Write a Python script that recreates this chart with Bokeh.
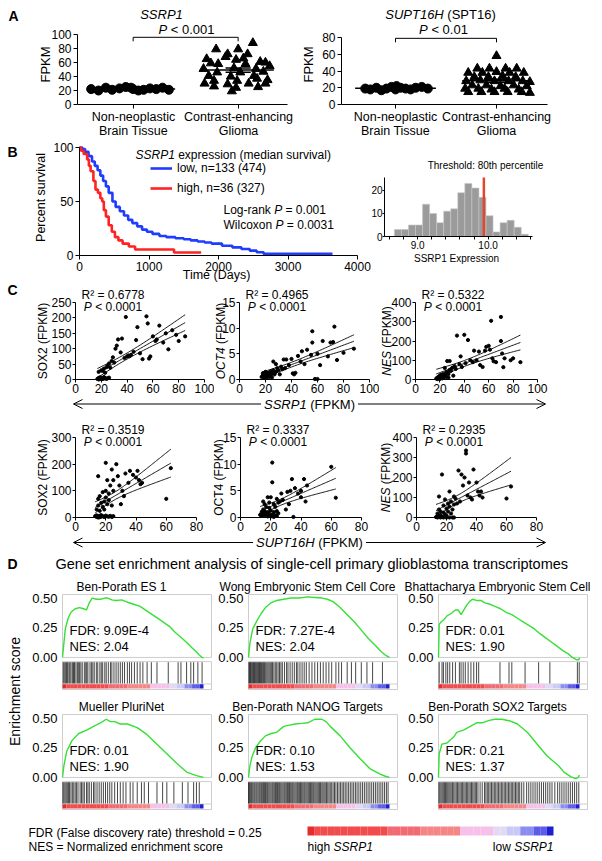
import numpy as np
from math import pi
from bokeh.plotting import figure
from bokeh.models import (Range1d, Label, FixedTicker, Arrow, OpenHead,
                          Legend, LegendItem, NumeralTickFormatter)
from bokeh.layouts import row, column
from bokeh.embed import file_html
from bokeh.resources import INLINE

FONT = "Liberation Sans"
BLUE = "#1f3cff"
RED = "#ff2222"
GREEN = "#36e036"

# ---------------- data: panel A ----------------
ssrp1_normal = [22, 20, 24, 21, 23, 25, 22, 20, 24, 21, 23, 22, 24, 21]
ssrp1_normal_jit = [-0.40, -0.33, -0.26, -0.20, -0.13, -0.07, 0.0, 0.05, -0.02, 0.10, 0.16, 0.22, 0.28, 0.34]
ssrp1_tumor = [88, 79, 79, 72, 72, 68, 66, 65, 64, 61, 59, 58, 58, 60, 55, 51, 52, 51, 46, 46, 47,
               41, 40, 41, 34, 34, 37, 35, 30, 29, 30, 30, 26, 24, 25, 19]
ssrp1_tumor_jit = [0.14, -0.21, 0.0, -0.10, 0.09, -0.12, 0.05, -0.30, -0.02, 0.21, -0.26, -0.19, 0.07,
                   0.26, 0.30, -0.33, -0.04, 0.17, -0.20, 0.02, 0.24, -0.28, -0.07, 0.15, -0.23, -0.01,
                   0.18, 0.28, -0.32, -0.10, 0.10, 0.26, -0.23, -0.02, 0.19, -0.06]
supt_normal = [19, 18, 20, 17, 19, 21, 18, 20, 22, 19, 18, 20, 21, 19]
supt_normal_jit = [-0.30, -0.25, -0.19, -0.14, -0.09, -0.04, 0.0, 0.05, 0.01, 0.10, 0.15, 0.20, 0.26, 0.32]
supt_tumor = [58, 43, 43, 43, 43, 38, 38, 39, 38, 38, 33, 33, 34, 33, 28, 29, 28, 28, 28, 27,
              23, 23, 22, 23, 22, 19, 19, 18, 19, 18, 15, 15, 15, 15, 15, 14]
supt_tumor_jit = [0.0, -0.19, -0.07, 0.09, 0.20, -0.28, -0.14, 0.0, 0.13, 0.27, -0.22, -0.08, 0.06,
                  0.19, -0.30, -0.16, -0.02, 0.12, 0.26, 0.33, -0.24, -0.10, 0.04, 0.17, 0.30, -0.31,
                  -0.18, -0.05, 0.08, 0.22, -0.28, -0.15, -0.02, 0.11, 0.25, 0.33]
group_labels = [("Non-neoplastic", "Brain Tissue"), ("Contrast-enhancing", "Glioma")]
sig_levels = [96, 79]   # height of the significance brackets (FPKM)

# ---------------- data: panel B ----------------
t_low = [0, 40, 80, 130, 180, 220, 260, 300, 340, 380, 420, 474, 520, 580, 640, 700, 760, 830, 900,
         970, 1050, 1150, 1250, 1380, 1500, 1600, 1700, 1800, 1900, 2050, 2200, 2330, 2450, 2550,
         2650, 3000, 3400, 3640]
s_low = [100, 98.5, 96, 92, 87, 83, 79, 74, 69, 64, 58, 50, 45, 41, 37, 33, 30, 27, 24, 22, 20, 18,
         17, 16, 15, 14, 13, 12, 11, 9, 7.5, 6, 4.5, 3, 1.5, 1.5, 1.5, 1.5]
t_high = [0, 20, 60, 110, 135, 160, 200, 230, 265, 300, 327, 350, 380, 420, 465, 510, 560, 620, 710,
          800, 930, 1330, 1360, 1750]
s_high = [100, 97, 94, 89, 83, 78, 69, 61, 58, 53, 50, 42, 36, 28, 22, 17, 14, 11, 8.3, 5.6, 5.6,
          5.6, 2.8, 2.8]
hist_centers = [8.72, 8.82, 8.92, 9.02, 9.12, 9.22, 9.32, 9.42, 9.52, 9.62, 9.72, 9.82, 9.92, 10.02,
                10.12, 10.22, 10.32, 10.42, 10.52]
hist_counts = [3, 3, 5, 5, 14, 10, 6, 11, 12, 19, 23, 21, 17, 9, 2, 6, 7, 4, 1]
threshold = 9.94

# ---------------- data: panel C (x, y) ----------------
c_ssrp1_sox2 = [(17, 2), (18, 5), (18, 0), (19, 3), (19, 7), (20, 1), (20, 6), (21, 2), (21, 4), (22, 3),
                (22, 8), (23, 5), (24, 2), (25, 4), (26, 6), (18, 25), (20, 30), (21, 28), (22, 35),
                (23, 22), (24, 40), (25, 45), (26, 52), (27, 38), (28, 60), (29, 72), (30, 55), (31, 100),
                (32, 110), (33, 130), (35, 88), (36, 133), (38, 70), (39, 203), (40, 75), (41, 78),
                (42, 76), (43, 80), (45, 90), (47, 128), (48, 170), (50, 85), (52, 66), (55, 205),
                (56, 182), (57, 68), (58, 75), (60, 140), (62, 125), (63, 130), (65, 175), (68, 120),
                (70, 150), (72, 98), (75, 160), (78, 145), (80, 125), (85, 140)]
c_ssrp1_oct4 = [(17, 0.5), (18, 0.8), (18, 1.2), (19, 0.3), (19, 1.0), (20, 0.6), (20, 1.5), (21, 0.9),
                (21, 0.4), (22, 1.3), (22, 0.7), (23, 1.1), (23, 0.5), (24, 1.6), (24, 0.9), (25, 1.2),
                (25, 0.4), (26, 1.8), (27, 1.0), (28, 1.5), (29, 2.2), (30, 1.8), (32, 2.5), (33, 2.0),
                (34, 3.9), (36, 3.9), (38, 2.8), (40, 4.0), (41, 1.2), (42, 1.0), (43, 1.3), (45, 4.6),
                (48, 5.5), (50, 3.0), (52, 5.8), (55, 4.8), (56, 9.4), (56, 7.2), (58, 0.1), (60, 0.1),
                (60, 5.0), (62, 2.8), (64, 7.5), (68, 4.5), (70, 7.2), (72, 7.3), (73, 10.3), (75, 3.8),
                (80, 5.2), (88, 6.0), (26, 3.5), (28, 3.0), (31, 1.0), (35, 2.2), (47, 3.5)]
c_ssrp1_nes = [(17, 5), (18, 10), (18, 2), (19, 15), (19, 8), (20, 20), (20, 3), (21, 12), (21, 25),
               (22, 6), (22, 18), (23, 30), (23, 10), (24, 22), (25, 14), (25, 35), (26, 40), (27, 28),
               (28, 50), (29, 45), (30, 60), (31, 20), (32, 70), (33, 55), (34, 228), (36, 80), (38, 65),
               (40, 232), (41, 85), (43, 205), (45, 100), (47, 90), (48, 150), (50, 100), (52, 145),
               (53, 75), (55, 65), (57, 150), (58, 170), (60, 175), (61, 155), (62, 305), (63, 110),
               (64, 95), (66, 90), (70, 325), (70, 200), (71, 135), (72, 64), (73, 110), (78, 100),
               (80, 110), (86, 90), (26, 96), (28, 96), (37, 120), (24, 60), (27, 10)]
c_supt_sox2 = [(13, 5), (14, 2), (14, 8), (15, 0), (15, 4), (16, 6), (16, 1), (17, 3), (17, 9), (18, 5),
               (19, 2), (20, 7), (21, 4), (22, 3), (23, 6), (24, 2), (25, 5), (14, 30), (15, 45), (15, 70),
               (16, 25), (16, 80), (17, 55), (18, 40), (18, 95), (19, 60), (19, 30), (20, 75), (20, 100),
               (21, 50), (22, 90), (22, 65), (23, 120), (24, 45), (25, 100), (15, 155), (20, 205),
               (21, 140), (24, 180), (25, 140), (27, 200), (28, 155), (29, 120), (30, 50), (31, 100),
               (32, 80), (33, 165), (35, 130), (36, 175), (38, 160), (40, 150), (41, 175), (42, 140),
               (43, 125), (44, 130), (60, 70), (63, 185)]
c_supt_oct4 = [(13, 0.5), (14, 1.0), (14, 0.3), (15, 1.5), (15, 0.8), (16, 0.4), (16, 1.2), (17, 2.0),
               (17, 0.6), (18, 1.0), (18, 0.2), (19, 1.8), (19, 0.7), (20, 1.3), (20, 3.8), (21, 10.3),
               (21, 6.6), (21, 0.5), (22, 2.5), (22, 1.0), (23, 0.4), (23, 2.0), (24, 3.5), (24, 1.2),
               (25, 0.8), (25, 2.8), (26, 3.0), (27, 4.5), (28, 3.3), (30, 1.5), (31, 4.8), (32, 2.5),
               (33, 5.0), (34, 7.2), (35, 0.1), (36, 5.5), (38, 4.5), (40, 5.0), (40, 3.8), (42, 7.2),
               (43, 3.0), (44, 6.0), (60, 9.5), (63, 3.7), (18, 3.8), (16, 2.5), (15, 3.0), (19, 2.8),
               (20, 0.2), (22, 0.1), (24, 0.3)]
c_supt_nes = [(13, 2), (14, 8), (14, 20), (15, 5), (15, 40), (15, 105), (16, 12), (16, 30), (17, 215),
              (17, 3), (18, 25), (18, 60), (19, 15), (19, 90), (20, 10), (20, 45), (21, 30), (21, 70),
              (22, 130), (22, 55), (23, 20), (23, 80), (24, 40), (25, 105), (25, 65), (26, 95), (27, 70),
              (28, 235), (29, 80), (30, 215), (31, 160), (32, 200), (33, 335), (33, 320), (34, 110),
              (35, 175), (36, 100), (37, 90), (38, 240), (40, 175), (41, 130), (42, 110), (43, 130),
              (44, 100), (60, 95), (63, 155), (14, 0), (16, 0), (18, 0), (20, 0), (22, 0), (24, 0), (25, 0)]
r2_ssrp1 = ["0.6778", "0.4965", "0.5322"]
r2_supt = ["0.3519", "0.3337", "0.2935"]

# ---------------- data: panel D (GSEA) ----------------
gsea_titles = ["Ben-Porath ES 1", "Wong Embryonic Stem Cell Core", "Bhattacharya Embryonic Stem Cell",
               "Mueller PluriNet", "Ben-Porath NANOG Targets", "Ben-Porath SOX2 Targets"]
gsea_fdr = ["9.09E-4", "7.27E-4", "0.01", "0.01", "0.10", "0.21"]
gsea_nes = ["2.04", "2.04", "1.90", "1.90", "1.53", "1.37"]
es_es1 = [(0, 0), (0.01, 0.12), (0.02, 0.24), (0.04, 0.33), (0.06, 0.38), (0.09, 0.41), (0.12, 0.42),
          (0.15, 0.41), (0.17, 0.40), (0.19, 0.46), (0.21, 0.50), (0.24, 0.49), (0.27, 0.49), (0.30, 0.50),
          (0.32, 0.50), (0.35, 0.485), (0.38, 0.48), (0.42, 0.485), (0.46, 0.465), (0.50, 0.45),
          (0.55, 0.43), (0.60, 0.39), (0.65, 0.35), (0.70, 0.31), (0.76, 0.26), (0.80, 0.21), (0.85, 0.16),
          (0.89, 0.115), (0.92, 0.08), (0.95, 0.045), (0.97, 0.02), (0.99, 0.0), (1.0, -0.005)]
es_wong = [(0, 0), (0.01, 0.12), (0.03, 0.24), (0.06, 0.31), (0.09, 0.37), (0.12, 0.42), (0.16, 0.46),
           (0.20, 0.48), (0.25, 0.49), (0.30, 0.50), (0.36, 0.50), (0.42, 0.51), (0.47, 0.505), (0.52, 0.50),
           (0.56, 0.49), (0.60, 0.47), (0.65, 0.42), (0.70, 0.36), (0.75, 0.30), (0.80, 0.23), (0.85, 0.16),
           (0.90, 0.10), (0.94, 0.05), (0.97, 0.02), (1.0, 0.0)]
es_bhat = [(0, 0), (0.005, 0.28), (0.02, 0.30), (0.04, 0.32), (0.06, 0.35), (0.09, 0.37), (0.12, 0.40),
           (0.14, 0.40), (0.16, 0.36), (0.18, 0.40), (0.20, 0.44), (0.22, 0.47), (0.24, 0.49), (0.27, 0.48),
           (0.30, 0.48), (0.33, 0.46), (0.36, 0.45), (0.40, 0.43), (0.44, 0.41), (0.48, 0.38), (0.52, 0.36),
           (0.56, 0.33), (0.60, 0.30), (0.64, 0.27), (0.68, 0.24), (0.72, 0.20), (0.76, 0.165), (0.80, 0.13),
           (0.84, 0.095), (0.88, 0.06), (0.92, 0.03), (0.95, 0.0), (0.98, -0.02), (0.995, -0.02), (1.0, 0.0)]
es_mueller = [(0, 0), (0.01, 0.10), (0.03, 0.22), (0.067, 0.31), (0.115, 0.37), (0.175, 0.40), (0.22, 0.43),
              (0.27, 0.46), (0.31, 0.49), (0.34, 0.47), (0.37, 0.47), (0.41, 0.45), (0.46, 0.45), (0.53, 0.42),
              (0.60, 0.36), (0.67, 0.28), (0.74, 0.20), (0.81, 0.12), (0.88, 0.045), (0.95, 0.015), (1.0, 0.0)]
es_nanog = [(0, 0), (0.01, 0.10), (0.024, 0.17), (0.05, 0.25), (0.08, 0.30), (0.12, 0.35), (0.16, 0.37),
            (0.20, 0.38), (0.25, 0.43), (0.29, 0.44), (0.33, 0.45), (0.38, 0.455), (0.42, 0.46), (0.47, 0.49),
            (0.52, 0.49), (0.55, 0.47), (0.58, 0.43), (0.65, 0.35), (0.72, 0.25), (0.79, 0.16), (0.86, 0.075),
            (0.93, 0.03), (0.97, 0.01), (1.0, 0.0)]
es_sox2 = [(0, 0), (0.005, 0.20), (0.024, 0.28), (0.06, 0.29), (0.107, 0.34), (0.13, 0.38), (0.18, 0.40),
           (0.226, 0.43), (0.27, 0.46), (0.31, 0.46), (0.36, 0.48), (0.40, 0.49), (0.45, 0.49), (0.51, 0.475),
           (0.56, 0.45), (0.63, 0.38), (0.70, 0.28), (0.77, 0.18), (0.85, 0.10), (0.89, 0.045), (0.94, 0.005),
           (0.975, -0.01), (0.99, 0.0), (1.0, 0.02)]
# gene-set hit positions in the ranked list (percent)
hits_es1 = [0.5, 1.2, 2, 2.8, 3.5, 4.5, 5.2, 6, 7, 7.8, 8.5, 9.5, 10.5, 11.2, 12, 13, 14, 15.5, 16.5, 17.2,
            18, 19.5, 20.5, 21.5, 22.5, 24, 25, 26.5, 27.5, 28.5, 30, 31, 32.5, 34, 35, 36.5, 38, 39.5, 41,
            42.5, 44, 46, 47.5, 49, 51, 53, 55, 57, 60, 63, 67, 75, 82, 84, 88, 91, 93, 96, 99]
hits_wong = [0.3, 0.8, 1.3, 1.8, 2.4, 3, 3.6, 4.2, 4.8, 5.4, 6, 6.6, 7.2, 7.8, 8.5, 9.2, 10, 10.7, 11.4,
             12.2, 13, 13.8, 14.6, 15.4, 16.2, 17, 18, 19, 20, 21, 22, 23, 24, 25.5, 27, 28, 29.5, 31, 32.5,
             34, 35, 36.5, 38, 39.5, 41, 43, 45, 47, 49, 51, 53, 55, 57, 59, 62, 64, 66, 70, 73, 76, 80, 84,
             88, 95]
hits_bhat = [0.5, 2.5, 3.5, 5.2, 6.5, 8, 10, 12, 14.8, 16, 17.5, 19, 21, 23, 25, 27, 28.5, 43.6, 50, 52,
             61.4, 71, 79, 98.5, 99.8]
hits_mueller = [0.3, 1, 1.8, 2.6, 3.4, 4.2, 5, 6, 7, 8, 9, 10, 11, 12.5, 13.5, 14.5, 15.5, 17, 18, 19,
                20.5, 22, 23, 24.5, 26, 27.5, 29, 30.5, 32, 33.5, 35, 37, 39, 41, 43, 45, 48, 50, 53, 56,
                58, 61, 67, 71, 74, 79, 85, 89, 93, 95, 97]
hits_nanog = [0, 0.7, 1.5, 2.2, 3, 3.8, 4.5, 5.3, 6, 6.8, 7.6, 8.3, 9.1, 9.8, 10.6, 11.4, 12.1, 12.9, 13.6,
              14.4, 15.2, 16, 16.8, 17.5, 18.3, 19.1, 19.8, 20.6, 21.4, 22.1, 22.9, 23.7, 24.5, 25.3, 26,
              26.8, 27.6, 28.3, 29.1, 29.9, 30.7, 31.4, 32.2, 33, 33.8, 34.6, 35.3, 36.1, 36.9, 37.7, 38.5,
              39.3, 40, 40.8, 41.6, 42.4, 43.2, 44, 44.8, 45.6, 46.3, 47.1, 47.9, 48.7, 49.5, 50.3, 51.1,
              52, 52.8, 53.6, 54.4, 55.3, 56.2, 57.1, 58, 59, 60, 61, 62, 63.1, 64.2, 65.3, 66.4, 67.5,
              68.6, 69.8, 71, 72.2, 73.4, 74.6, 75.8, 77, 78.3, 79.6, 80.9, 82.2, 83.5, 84.8, 86.1, 87.4,
              88.7, 90, 91.3, 92.6, 93.9, 95.2, 96.5, 97.8, 99]
hits_sox2 = [0.3, 1, 1.8, 2.6, 3.4, 4.2, 5, 5.8, 6.6, 7.4, 8.2, 9, 9.9, 10.8, 11.7, 12.6, 13.5, 14.4, 15.3,
             16.2, 17.1, 18, 18.9, 19.8, 20.7, 21.6, 22.5, 23.4, 24.3, 25.2, 26.1, 27, 28, 29.5, 31, 32.6,
             33.6, 34.6, 35.6, 36.6, 37.6, 38.6, 39.6, 40.6, 41.6, 42.6, 43.6, 44.6, 45.6, 46.6, 47.6,
             48.6, 49.6, 50.6, 51.6, 52.6, 53.6, 54.6, 55.6, 56.6, 57.6, 59, 60.5, 62.5, 64, 65.5, 67,
             68.5, 70, 71.5, 73, 74.5, 76, 77.5, 79, 80.5, 82.5, 84.5, 86, 87.5, 89, 90.5, 92, 93.5, 95,
             96.5, 98, 99.5]
rank_colors = (["#e52c2c"] + ["#f24b4b"] * 11 + ["#f26b73"] * 5 + ["#f58686"] * 6 + ["#f7c0ea"] * 5 +
               ["#e2d9f5"] * 2 + ["#c9c9f5"] * 2 + ["#8c8cf0"] * 2 + ["#5c5ce8"] * 2 + ["#1f1fd0"])

# ---------------- helpers ----------------
AW = {' ': 278, '(': 333, ')': 333, ',': 278, '-': 333, '.': 278, ':': 278, '<': 584, '=': 584,
      '²': 333, 'A': 667, 'B': 667, 'C': 722, 'D': 722, 'E': 667, 'F': 611, 'G': 778, 'H': 722,
      'I': 278, 'J': 500, 'K': 667, 'L': 556, 'M': 833, 'N': 722, 'O': 778, 'P': 667, 'Q': 778,
      'R': 722, 'S': 667, 'T': 611, 'U': 722, 'V': 667, 'W': 944, 'X': 667, 'Y': 667, 'Z': 611,
      'a': 556, 'b': 556, 'c': 500, 'd': 556, 'e': 556, 'f': 278, 'g': 556, 'h': 556, 'i': 222,
      'j': 222, 'k': 500, 'l': 222, 'm': 833, 'n': 556, 'o': 556, 'p': 556, 'q': 556, 'r': 333,
      's': 500, 't': 278, 'u': 556, 'v': 500, 'w': 722, 'x': 500, 'y': 500, 'z': 500}


def tw(s, size):
    return sum(AW.get(c, 556) for c in s) * size / 1000.0


class Panel:
    """A figure covering page-pixel box; its data area sits at page-pixel 'area' with ranges xr, yr.
    The frame spans the whole figure; axes are pinned at the data area's edges."""
    def __init__(self, box, area=None, xr=None, yr=None):
        self.L, self.T, self.R, self.B = box
        self.l, self.t, self.r, self.b = area if area else box
        self.xr = xr if xr else (self.l, self.r)
        self.yr = yr if yr else (0, self.b - self.t)

    def X(self, px):
        return self.xr[0] + (px - self.l) / (self.r - self.l) * (self.xr[1] - self.xr[0])

    def Y(self, py):
        return self.yr[0] + (self.b - py) / (self.b - self.t) * (self.yr[1] - self.yr[0])

    def fig(self, **kw):
        p = figure(width=int(self.R - self.L), height=int(self.B - self.T),
                   x_range=Range1d(self.X(self.L), self.X(self.R)),
                   y_range=Range1d(self.Y(self.B), self.Y(self.T)),
                   min_border_left=0, min_border_right=0, min_border_top=0, min_border_bottom=0,
                   output_backend="svg", toolbar_location=None, title=None, **kw)
        p.outline_line_color = None
        p.grid.visible = False
        p.background_fill_color = "white"
        p.border_fill_color = "white"
        for ax in p.xaxis:
            ax.fixed_location = self.yr[0]
            ax.bounds = tuple(self.xr)
        for ax in p.yaxis:
            ax.fixed_location = self.xr[0]
            ax.bounds = tuple(self.yr)
        return p


def text(p, P, x, y, s, size=12, align="left", style="normal", angle=0.0, color="black"):
    p.add_layout(Label(x=P.X(x), y=P.Y(y), text=s, text_font=FONT, text_font_size=f"{size}px",
                       text_font_style=style, text_align=align, text_baseline="middle",
                       angle=angle, text_color=color))


def mixed(p, P, x, y, pieces, size=12, align="left", angle=0.0):
    widths = [tw(s, size) for s, _ in pieces]
    total = sum(widths)
    off = {"left": 0.0, "center": -total / 2, "right": -total}[align]
    for (s, st), w in zip(pieces, widths):
        lead = len(s) - len(s.lstrip(" "))
        o = off + tw(" " * lead, size)
        if angle == 0:
            text(p, P, x + o, y, s.strip(), size, "left", st)
        else:
            text(p, P, x, y - o, s.strip(), size, "left", st, angle=angle)
        off += w
    return total


def style_axis(ax, ticks, size=12, tick=4, standoff=2):
    ax.ticker = FixedTicker(ticks=ticks, minor_ticks=[])
    ax.axis_line_color = "black"
    ax.axis_line_width = 1
    ax.major_tick_line_color = "black"
    ax.major_tick_in = 0
    ax.major_tick_out = tick
    ax.minor_tick_line_color = None
    ax.major_label_text_font = FONT
    ax.major_label_text_font_size = f"{size}px"
    ax.major_label_text_color = "black"
    ax.major_label_standoff = standoff


def prism_axes(p, xt, yt, size=12, tick=4, standoff=2):
    style_axis(p.xaxis[0], xt, size, tick, standoff)
    style_axis(p.yaxis[0], yt, size, tick, standoff)


def fit_ci(xs, ys):
    x = np.asarray(xs, float)
    y = np.asarray(ys, float)
    n = len(x)
    b, a = np.polyfit(x, y, 1)
    gx = np.linspace(x.min(), x.max(), 60)
    gy = a + b * gx
    s = np.sqrt(np.sum((y - (a + b * x)) ** 2) / (n - 2))
    se = s * np.sqrt(1.0 / n + (gx - x.mean()) ** 2 / np.sum((x - x.mean()) ** 2))
    return gx, gy, gy - 1.99 * se, gy + 1.99 * se


# ---------------- panel A ----------------
def dot_panel(P, normal, njit, tumor, tjit, sig, title_pieces, ptxt, cats_x, ylab_x, ticks, letter=None):
    p = P.fig()
    prism_axes(p, [1, 2], ticks, 12, 4, 2)
    p.xaxis[0].major_label_overrides = {1: "", 2: ""}
    p.scatter([1 + j for j in njit], normal, marker="circle", size=9, color="black")
    p.scatter([2 + j for j in tjit], tumor, marker="triangle", size=9, color="black")
    for c, vals, half in ((1, normal, 0.40), (2, tumor, 0.34)):
        m = float(np.mean(vals))
        se = float(np.std(vals, ddof=1) / np.sqrt(len(vals)))
        p.segment(x0=[c - half, c - 0.12, c - 0.12, c], y0=[m, m + se, m - se, m - se],
                  x1=[c + half, c + 0.12, c + 0.12, c], y1=[m, m + se, m - se, m + se],
                  color="black", line_width=1.5)
    dy = 4 * (P.yr[1] - P.yr[0]) / (P.b - P.t)
    p.multi_line(xs=[[1, 1, 2, 2]], ys=[[sig - dy, sig, sig, sig - dy]], color="black", line_width=1)
    if letter:
        text(p, P, 13, 15, letter, 14, "center", "bold")
    mixed(p, P, title_pieces[0], 14, title_pieces[1], 13, "center")
    mixed(p, P, ptxt[0], 29, [("P", "italic"), (ptxt[1], "normal")], 13, "center")
    text(p, P, ylab_x, 64, "FPKM", 13, "center", angle=pi / 2)
    for cx, (l1, l2) in zip(cats_x, group_labels):
        text(p, P, cx, 116, l1, 12.5, "center")
        text(p, P, cx, 130, l2, 12.5, "center")
    return p


PA1 = Panel((0, 0, 300, 140), (77, 34, 287, 104), (0.47, 2.47), (0, 100))
a1 = dot_panel(PA1, ssrp1_normal, ssrp1_normal_jit, ssrp1_tumor, ssrp1_tumor_jit, sig_levels[0],
               (161, [("SSRP1", "italic")]), (186, " < 0.001"), (133, 238), 45,
               [0, 20, 40, 60, 80, 100], "A")
PA2 = Panel((300, 0, 600, 140), (341, 37, 547, 104), (0.465, 2.505), (0, 80))
a2 = dot_panel(PA2, supt_normal, supt_normal_jit, supt_tumor, supt_tumor_jit, sig_levels[1],
               (440, [("SUPT16H", "italic"), (" (SPT16)", "normal")]), (443, " < 0.01"), (395, 496), 308,
               [0, 20, 40, 60, 80])

# ---------------- panel B ----------------
PB = Panel((0, 140, 371, 282), (79, 147, 357, 255), (0, 4000), (0, 100))
b = PB.fig()
prism_axes(b, [0, 1000, 2000, 3000, 4000], [0, 50, 100], 12, 4, 2)
rb = b.step(t_low, s_low, mode="after", color=BLUE, line_width=2.6)
rr = b.step(t_high, s_high, mode="after", color=RED, line_width=2.6)
leg = Legend(items=[LegendItem(label="low, n=133 (474)", renderers=[rb]),
                    LegendItem(label="high, n=36 (327)", renderers=[rr])],
             location=(150, 84))
leg.label_text_font = FONT
leg.label_text_font_size = "12px"
leg.label_text_color = "black"
leg.glyph_width = 22
leg.glyph_height = 20
leg.label_height = 20
leg.label_standoff = 5
leg.padding = 0
leg.margin = 0
leg.spacing = 0
leg.border_line_color = None
leg.background_fill_alpha = 0
b.add_layout(leg)
text(b, PB, 12, 151, "B", 14, "center", "bold")
mixed(b, PB, 135, 154, [("SSRP1", "italic"), (" expression (median survival)", "normal")], 12)
mixed(b, PB, 223, 209, [("Log-rank ", "normal"), ("P", "italic"), (" = 0.001", "normal")], 12)
mixed(b, PB, 223, 224, [("Wilcoxon ", "normal"), ("P", "italic"), (" = 0.0031", "normal")], 12)
text(b, PB, 40, 197, "Percent survival", 12.5, "center", angle=pi / 2)
text(b, PB, 216, 274, "Time (Days)", 12.5, "center")

PH = Panel((371, 140, 600, 282), (384, 177, 532, 236), (8.53, 10.63), (0, 25.6))
h = PH.fig()
style_axis(h.xaxis[0], [9.0, 10.0], 10, 3, 1)
style_axis(h.yaxis[0], [0, 10, 20], 10, 2, 0)
h.xaxis[0].ticker = FixedTicker(ticks=[9.0, 10.0],
                                minor_ticks=[8.6, 8.8, 9.2, 9.4, 9.6, 9.8, 10.2, 10.4, 10.6])
h.xaxis[0].minor_tick_line_color = "black"
h.xaxis[0].minor_tick_in = 0
h.xaxis[0].minor_tick_out = 3
h.xaxis[0].formatter = NumeralTickFormatter(format="0.0")
h.vbar(x=hist_centers, top=hist_counts, width=0.1, fill_color="#9b9b9b", line_color="#c8c8c8",
       line_width=0.6)
h.segment(x0=[threshold], y0=[0], x1=[threshold], y1=[PH.yr[1]], line_color="#e4462c", line_width=2.5)
text(h, PH, 485, 165, "Threshold: 80th percentile", 10, "center")
text(h, PH, 456, 258, "SSRP1 Expression", 10, "center")


# ---------------- panel C ----------------
def scatter_panel(P, pts, xt, yt, gene, gstyle, r2, ylab_x, letter=None):
    p = P.fig()
    prism_axes(p, xt, yt, 12, 3, 1)
    xs = [q[0] for q in pts]
    ys = [q[1] for q in pts]
    gx, gy, lo, hi = fit_ci(xs, ys)
    for yy in (gy, lo, hi):
        p.line(gx, yy, color="black", line_width=0.9)
    p.scatter(xs, ys, size=3.2, color="black")
    cx = P.l + 37.5
    text(p, P, cx, P.t - 8, f"R² = {r2}", 12, "center")
    mixed(p, P, cx, P.t + 4, [("P", "italic"), (" < 0.0001", "normal")], 12, "center")
    mixed(p, P, ylab_x, (P.t + P.b) / 2, [(gene, gstyle), (" (FPKM)", "normal")], 12, "center",
          angle=pi / 2)
    if letter:
        text(p, P, 12, 289.5, letter, 14, "center", "bold")
    return p


X1 = [0, 20, 40, 60, 80, 100]
X2 = [0, 20, 40, 60, 80]
c11 = scatter_panel(Panel((0, 282, 214, 396), (75, 302, 204, 379), (0, 100), (0, 250)), c_ssrp1_sox2,
                    X1, [0, 50, 100, 150, 200, 250], "SOX2", "normal", r2_ssrp1[0], 42, "C")
c12 = scatter_panel(Panel((214, 282, 379, 396), (239, 302, 369, 379), (0, 100), (0, 15)), c_ssrp1_oct4,
                    X1, [0, 5, 10, 15], "OCT4", "italic", r2_ssrp1[1], 220)
c13 = scatter_panel(Panel((379, 282, 600, 396), (415, 302, 537, 379), (0, 100), (0, 400)), c_ssrp1_nes,
                    X1, [0, 100, 200, 300, 400], "NES", "italic", r2_ssrp1[2], 386)
c21 = scatter_panel(Panel((0, 412, 211, 535), (75, 437, 196, 517), (0, 80), (0, 300)), c_supt_sox2,
                    X2, [0, 100, 200, 300], "SOX2", "normal", r2_supt[0], 42)
c22 = scatter_panel(Panel((211, 412, 375, 535), (240, 437, 361, 517), (0, 80), (0, 15)), c_supt_oct4,
                    X2, [0, 5, 10, 15], "OCT4", "normal", r2_supt[1], 218)
c23 = scatter_panel(Panel((375, 412, 600, 535), (416, 437, 536, 517), (0, 80), (0, 400)), c_supt_nes,
                    X2, [0, 100, 200, 300, 400], "NES", "italic", r2_supt[2], 385)


def arrow_band(box, pieces, ay):
    P = Panel(box)
    p = P.fig(x_axis_location=None, y_axis_location=None)
    cx = 309
    w = mixed(p, P, cx, ay, pieces, 13, "center")
    for xs, xe in ((cx - w / 2 - 3, 73), (cx + w / 2 + 3, 545)):
        p.add_layout(Arrow(end=OpenHead(size=9, line_width=1, line_color="black"),
                           x_start=P.X(xs), y_start=P.Y(ay), x_end=P.X(xe), y_end=P.Y(ay),
                           line_width=1, line_color="black"))
    return p


arr1 = arrow_band((0, 396, 600, 412), [("SSRP1", "italic"), (" (FPKM)", "normal")], 403.5)
arr2 = arrow_band((0, 535, 600, 550), [("SUPT16H", "italic"), (" (FPKM)", "normal")], 542)

# ---------------- panel D ----------------
PD = Panel((0, 550, 600, 578))
dfig = PD.fig(x_axis_location=None, y_axis_location=None)
text(dfig, PD, 12, 563, "D", 14, "center", "bold")
text(dfig, PD, 55, 563,
     "Gene set enrichment analysis of single-cell primary glioblastoma transcriptomes", 14.5)

PE = Panel((0, 578, 28, 815))
efig = PE.fig(x_axis_location=None, y_axis_location=None)
text(efig, PE, 14, 691, "Enrichment score", 14, "center", angle=pi / 2)


def gsea_panel(P, title, es, hits, fdr, nes):
    p = P.fig(x_axis_location=None)
    ax = p.yaxis[0]
    ax.ticker = FixedTicker(ticks=[0, 0.25, 0.5], minor_ticks=[])
    ax.formatter = NumeralTickFormatter(format="0.00")
    ax.axis_line_color = None
    ax.major_tick_line_color = None
    ax.major_tick_out = 0
    ax.major_tick_in = 0
    ax.minor_tick_line_color = None
    ax.major_label_text_font = FONT
    ax.major_label_text_font_size = "13px"
    ax.major_label_text_color = "black"
    ax.major_label_standoff = 5
    xmax = P.xr[1]
    p.quad(left=[0, 0], right=[xmax, xmax], bottom=[0, -0.27], top=[0.53, -0.035],
           fill_color=None, line_color="#cdcdcd", line_width=1)
    hx = [v / 100.0 for v in hits]
    p.segment(x0=hx, y0=[-0.04] * len(hx), x1=hx, y1=[-0.222] * len(hx), color="black",
              line_alpha=0.72, line_width=1)
    p.segment(x0=[0], y0=[-0.224], x1=[xmax], y1=[-0.224], color="#cdcdcd", line_width=1)
    n = len(rank_colors)
    p.quad(left=[i / n for i in range(n)], right=[(i + 1) / n for i in range(n)],
           bottom=[-0.262] * n, top=[-0.226] * n, fill_color=rank_colors, line_color=None)
    p.line([q[0] for q in es], [q[1] for q in es], color=GREEN, line_width=1.4)
    text(p, P, P.l + 59, P.t - 7.5, title, 12, "center")
    text(p, P, P.l + 7, P.t + 35.5, f"FDR: {fdr}", 13)
    text(p, P, P.l + 7, P.t + 51.5, f"NES: {nes}", 13)
    return p


XR = (0, 149 / 141.0)
YR = (-0.27, 0.53)
es_list = [es_es1, es_wong, es_bhat, es_mueller, es_nanog, es_sox2]
hit_list = [hits_es1, hits_wong, hits_bhat, hits_mueller, hits_nanog, hits_sox2]
boxes_x = [(28, 215, 62, 211), (215, 402, 248, 397), (402, 600, 438, 587)]
gfigs = []
for k in range(6):
    L, R, fl, fr = boxes_x[k % 3]
    if k < 3:
        P = Panel((L, 578, R, 696), (fl, 594, fr, 689), XR, YR)
    else:
        P = Panel((L, 696, R, 815), (fl, 714, fr, 809), XR, YR)
    gfigs.append(gsea_panel(P, gsea_titles[k], es_list[k], hit_list[k], gsea_fdr[k], gsea_nes[k]))

PF = Panel((0, 815, 600, 858))
foot = PF.fig(x_axis_location=None, y_axis_location=None)
text(foot, PF, 28, 832, "FDR (False discovery rate) threshold = 0.25", 12)
text(foot, PF, 28, 846, "NES = Normalized enrichment score", 12)
ncol = len(rank_colors)
cb0, cb1 = 307, 553
foot.quad(left=[PF.X(cb0 + i * (cb1 - cb0) / ncol) for i in range(ncol)],
          right=[PF.X(cb0 + (i + 1) * (cb1 - cb0) / ncol) for i in range(ncol)],
          bottom=[PF.Y(835)] * ncol, top=[PF.Y(826)] * ncol, fill_color=rank_colors, line_color=None)
mixed(foot, PF, cb0, 846, [("high ", "normal"), ("SSRP1", "italic")], 12, "left")
mixed(foot, PF, cb1, 846, [("low ", "normal"), ("SSRP1", "italic")], 12, "right")

layout = column(
    row(a1, a2),
    row(b, h),
    row(c11, c12, c13),
    arr1,
    row(c21, c22, c23),
    arr2,
    dfig,
    row(efig, column(row(gfigs[0], gfigs[1], gfigs[2]), row(gfigs[3], gfigs[4], gfigs[5]))),
    foot,
)

open("out.html", "w").write(file_html(layout, INLINE, title="SSRP1 figure"))
